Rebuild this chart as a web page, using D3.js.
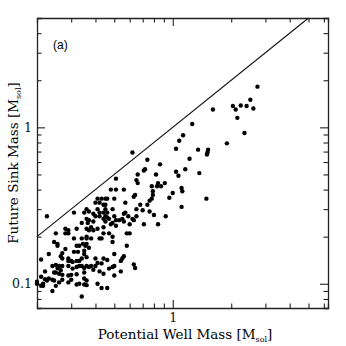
<!DOCTYPE html>
<html>
<head>
<meta charset="utf-8">
<script src="https://cdn.jsdelivr.net/npm/d3@7"></script>
<style>
  body { margin: 0; background: #fff; }
  .axis path { stroke: #222; stroke-width: 1.3; }
  .axis line { stroke: #222; stroke-width: 1.1; }
  .axis text { font-family: "DejaVu Serif", serif; font-size: 12.5px; fill: #111; }
</style>
</head>
<body>
<script>

// 1) DATA (read off the figure) - potential well mass vs future sink mass, Msol
let wellMass = [
  2.73, 2.51, 2.04, 2.24, 2.40, 2.60, 2.11, 1.61, 2.15, 2.34, 1.26, 1.90, 1.13, 1.08, 1.04, 1.52, 1.51, 1.50, 1.35, 1.22,
  0.62, 1.37, 1.16, 1.04, 1.07, 1.11, 1.12, 1.49, 1.11, 1.00, 0.96, 0.92, 0.74, 0.72, 0.71, 0.66, 0.65, 0.86, 0.82, 0.84,
  0.91, 0.87, 0.83, 0.78, 0.79, 0.79, 0.78, 0.76, 0.74, 0.68, 0.70, 0.76, 0.80, 0.84, 0.71, 0.64, 0.63, 0.65, 0.65, 0.63,
  0.62, 0.60, 0.59, 0.57, 0.57, 0.56, 0.56, 0.58, 0.60, 0.55, 0.53, 0.51, 0.51, 0.51, 0.51, 0.48, 0.45, 0.43, 0.46, 0.41,
  0.42, 0.40, 0.44, 0.45, 0.45, 0.46, 0.44, 0.42, 0.41, 0.39, 0.37, 0.40, 0.42, 0.45, 0.46, 0.47, 0.44, 0.39, 0.37, 0.36,
  0.35, 0.36, 0.38, 0.37, 0.39, 0.41, 0.44, 0.45, 0.48, 0.49, 0.50, 0.49, 0.44, 0.47, 0.49, 0.43, 0.42, 0.36, 0.36, 0.38,
  0.49, 0.58, 0.50, 0.56, 0.55, 0.54, 0.63, 0.64, 0.50, 0.49, 0.47, 0.46, 0.44, 0.43, 0.44, 0.50, 0.54, 0.40, 0.41, 0.40,
  0.38, 0.37, 0.39, 0.42, 0.41, 0.43, 0.46, 0.35, 0.35, 0.36, 0.36, 0.35, 0.35, 0.355, 0.36, 0.37, 0.345, 0.34, 0.33, 0.32,
  0.31, 0.325, 0.34, 0.33, 0.32, 0.305, 0.30, 0.29, 0.29, 0.305, 0.32, 0.33, 0.34, 0.35, 0.36, 0.36, 0.35, 0.34, 0.33, 0.32,
  0.32, 0.30, 0.29, 0.27, 0.26, 0.25, 0.245, 0.27, 0.29, 0.30, 0.26, 0.245, 0.24, 0.23, 0.225, 0.22, 0.21, 0.21, 0.20, 0.215,
  0.24, 0.25, 0.265, 0.27, 0.26, 0.25, 0.24, 0.255, 0.29, 0.27, 0.27, 0.28, 0.255, 0.255, 0.245, 0.25, 0.29, 0.28, 0.28, 0.29,
  0.31, 0.23, 0.21, 0.225, 0.32, 0.34, 0.36, 0.365, 0.31, 0.265, 0.22, 0.215, 0.20, 0.56, 0.50, 0.66
];
let sinkMass = [
  1.82, 1.50, 1.37, 1.38, 1.37, 1.32, 1.30, 1.30, 1.15, 0.92, 1.05, 0.79, 0.89, 0.82, 0.73, 0.72, 0.69, 0.67, 0.72, 0.63,
  0.69, 0.51, 0.54, 0.52, 0.49, 0.41, 0.39, 0.35, 0.31, 0.38, 0.355, 0.27, 0.62, 0.54, 0.53, 0.50, 0.46, 0.58, 0.50, 0.44,
  0.44, 0.42, 0.42, 0.42, 0.39, 0.37, 0.35, 0.34, 0.32, 0.32, 0.295, 0.29, 0.275, 0.24, 0.24, 0.37, 0.36, 0.30, 0.27, 0.255,
  0.26, 0.24, 0.27, 0.285, 0.33, 0.28, 0.25, 0.21, 0.21, 0.26, 0.255, 0.235, 0.255, 0.47, 0.40, 0.40, 0.35, 0.35, 0.35, 0.35,
  0.33, 0.33, 0.32, 0.32, 0.30, 0.285, 0.285, 0.285, 0.30, 0.28, 0.29, 0.27, 0.27, 0.27, 0.265, 0.26, 0.26, 0.25, 0.255, 0.26,
  0.285, 0.225, 0.23, 0.22, 0.22, 0.225, 0.23, 0.25, 0.24, 0.245, 0.27, 0.30, 0.21, 0.21, 0.20, 0.195, 0.195, 0.20, 0.195, 0.195,
  0.185, 0.175, 0.155, 0.15, 0.145, 0.14, 0.133, 0.126, 0.13, 0.128, 0.125, 0.142, 0.145, 0.135, 0.116, 0.113, 0.12, 0.145, 0.136, 0.13,
  0.13, 0.128, 0.123, 0.12, 0.10, 0.094, 0.094, 0.118, 0.126, 0.13, 0.148, 0.155, 0.163, 0.175, 0.18, 0.17, 0.18, 0.195, 0.175, 0.175,
  0.16, 0.16, 0.145, 0.14, 0.14, 0.138, 0.14, 0.14, 0.13, 0.125, 0.128, 0.13, 0.13, 0.108, 0.105, 0.098, 0.099, 0.083, 0.10, 0.099,
  0.115, 0.114, 0.113, 0.114, 0.116, 0.118, 0.118, 0.106, 0.102, 0.106, 0.102, 0.105, 0.106, 0.108, 0.105, 0.107, 0.111, 0.097, 0.103, 0.097,
  0.09, 0.097, 0.122, 0.13, 0.13, 0.132, 0.13, 0.126, 0.145, 0.145, 0.157, 0.167, 0.175, 0.18, 0.185, 0.21, 0.21, 0.21, 0.225, 0.22,
  0.285, 0.155, 0.143, 0.27, 0.225, 0.245, 0.30, 0.245, 0.195, 0.15, 0.12, 0.10, 0.10, 0.40, 0.35, 0.44
];

// axis ranges and tick values
let xDomain = [0.2, 6.3];
let yDomain = [0.07, 5];
let xMajor = [1];
let xMinor = [0.3, 0.4, 0.5, 0.6, 0.7, 0.8, 0.9, 2, 3, 4, 5, 6];
let yMajor = [0.1, 1];
let yMinor = [0.08, 0.09, 0.2, 0.3, 0.4, 0.5, 0.6, 0.7, 0.8, 0.9, 2, 3, 4];
let diagonal = [0.2, 5];   // the y = x line

let points = wellMass.map((d, i) => ({x: d, y: sinkMass[i]}));

// 2) SVG + SCALES
let margin = {top: 18, right: 18, bottom: 38, left: 37};
let width = 346, height = 346;

let svg = d3.select("body").append("svg")
    .attr("width", width)
    .attr("height", height);

let x = d3.scaleLog().domain(xDomain).range([margin.left, width - margin.right]);
let y = d3.scaleLog().domain(yDomain).range([height - margin.bottom, margin.top]);

// 3) AXES - ticks point inwards on all four sides
function fmt(d) { return d < 1 ? d.toFixed(1) : d; }

function drawAxis(axisFn, scale, major, minor, transform, labels, pad) {
  let g = svg.append("g").attr("class", "axis").attr("transform", transform);
  g.call(axisFn(scale).tickValues(minor).tickSize(-4.5).tickFormat(""));
  let g2 = svg.append("g").attr("class", "axis").attr("transform", transform);
  g2.call(axisFn(scale).tickValues(major).tickSize(-8).tickPadding(pad || 3)
      .tickFormat(labels ? fmt : ""));
  g2.select(".domain").remove();
  return g2;
}

drawAxis(d3.axisBottom, x, xMajor, xMinor, `translate(0,${height - margin.bottom})`, true, 5);
drawAxis(d3.axisTop, x, xMajor, xMinor, `translate(0,${margin.top})`, false);
drawAxis(d3.axisLeft, y, yMajor, yMinor, `translate(${margin.left},0)`, true, 5);
drawAxis(d3.axisRight, y, yMajor, yMinor, `translate(${width - margin.right},0)`, false);

// 4) y = x LINE
svg.append("line")
    .attr("x1", x(diagonal[0])).attr("y1", y(diagonal[0]))
    .attr("x2", x(diagonal[1])).attr("y2", y(diagonal[1]))
    .attr("stroke", "#111")
    .attr("stroke-width", 1.1);

// 5) POINTS
svg.selectAll("circle")
    .data(points)
    .enter()
    .append("circle")
    .attr("cx", d => x(d.x))
    .attr("cy", d => y(d.y))
    .attr("r", 2.2)
    .attr("fill", "#000");

// 6) LABELS
svg.append("text")
    .attr("x", 53).attr("y", 49)
    .style("font-family", "'Liberation Sans', Arial, sans-serif")
    .style("font-size", "12px")
    .text("(a)");

let xt = svg.append("text")
    .attr("x", 185)
    .attr("y", 339)
    .attr("text-anchor", "middle")
    .style("font-family", "'DejaVu Serif', serif")
    .style("font-size", "13.5px");
xt.append("tspan").text("Potential Well Mass [M");
xt.append("tspan").attr("dy", 3).style("font-size", "8px").text("sol");
xt.append("tspan").attr("dy", -3).text("]");

let yt = svg.append("text")
    .attr("transform", `translate(18,${(margin.top + height - margin.bottom) / 2}) rotate(-90)`)
    .attr("text-anchor", "middle")
    .style("font-family", "'DejaVu Serif', serif")
    .style("font-size", "13.5px");
yt.append("tspan").text("Future Sink Mass [M");
yt.append("tspan").attr("dy", 3).style("font-size", "8px").text("sol");
yt.append("tspan").attr("dy", -3).text("]");

</script>
</body>
</html>
